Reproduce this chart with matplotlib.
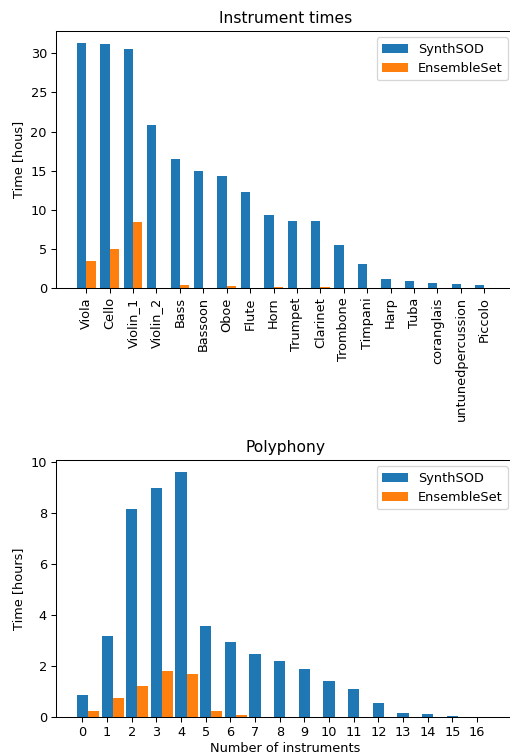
import numpy as np
import matplotlib
matplotlib.use('Agg')
import matplotlib.pyplot as plt

# instrument times (hours)
instruments = ['Viola', 'Cello', 'Violin_1', 'Violin_2', 'Bass', 'Bassoon', 'Oboe',
               'Flute', 'Horn', 'Trumpet', 'Clarinet', 'Trombone', 'Timpani', 'Harp',
               'Tuba', 'coranglais', 'untunedpercussion', 'Piccolo']
synth_inst = [31.28, 31.15, 30.51, 20.82, 16.49, 14.96, 14.32, 12.28, 9.35, 8.58,
              8.58, 5.52, 3.10, 1.19, 0.93, 0.68, 0.55, 0.42]
ens_inst = [3.48, 5.01, 8.45, 0.03, 0.42, 0.04, 0.29, 0.03, 0.17, 0.03,
            0.17, 0.03, 0.03, 0.02, 0.02, 0.02, 0.02, 0.02]

# polyphony (hours)
n_inst = list(range(17))
synth_poly = [0.87, 3.18, 8.15, 8.97, 9.60, 3.57, 2.95, 2.48, 2.20, 1.89,
              1.42, 1.11, 0.56, 0.17, 0.13, 0.05, 0.01]
ens_poly = [0.25, 0.76, 1.22, 1.81, 1.69, 0.25, 0.09, 0.01, 0.01, 0.01,
            0.01, 0.01, 0.01, 0.0, 0.0, 0.0, 0.0]

dpi = 93
fig = plt.figure(figsize=(511/dpi, 755/dpi), dpi=dpi)
# axes run slightly past the right edge, as in the cropped original
ax1 = fig.add_axes([56/511, 1 - 288.3/755, 458.5/511, 257.3/755])
ax2 = fig.add_axes([56/511, 1 - 717.3/755, 458.5/511, 257.3/755])

x = np.arange(len(instruments))
w = 0.4
ax1.bar(x - w/2, synth_inst, w, label='SynthSOD')
ax1.bar(x + w/2, ens_inst, w, label='EnsembleSet')
ax1.set_xticks(x, instruments, rotation=90)
ax1.set_ylabel('Time [hous]')
ax1.set_title('Instrument times')
ax1.legend(loc='upper right')

x2 = np.arange(len(n_inst))
w2 = 0.45
ax2.bar(x2, synth_poly, w2, label='SynthSOD')
ax2.bar(x2 + w2, ens_poly, w2, label='EnsembleSet')
ax2.set_xticks(x2, [str(n) for n in n_inst])
ax2.set_xlabel('Number of instruments', labelpad=2)
ax2.set_ylabel('Time [hours]')
ax2.set_title('Polyphony')
ax2.legend(loc='upper right')

fig.savefig('out.png', dpi=dpi)
